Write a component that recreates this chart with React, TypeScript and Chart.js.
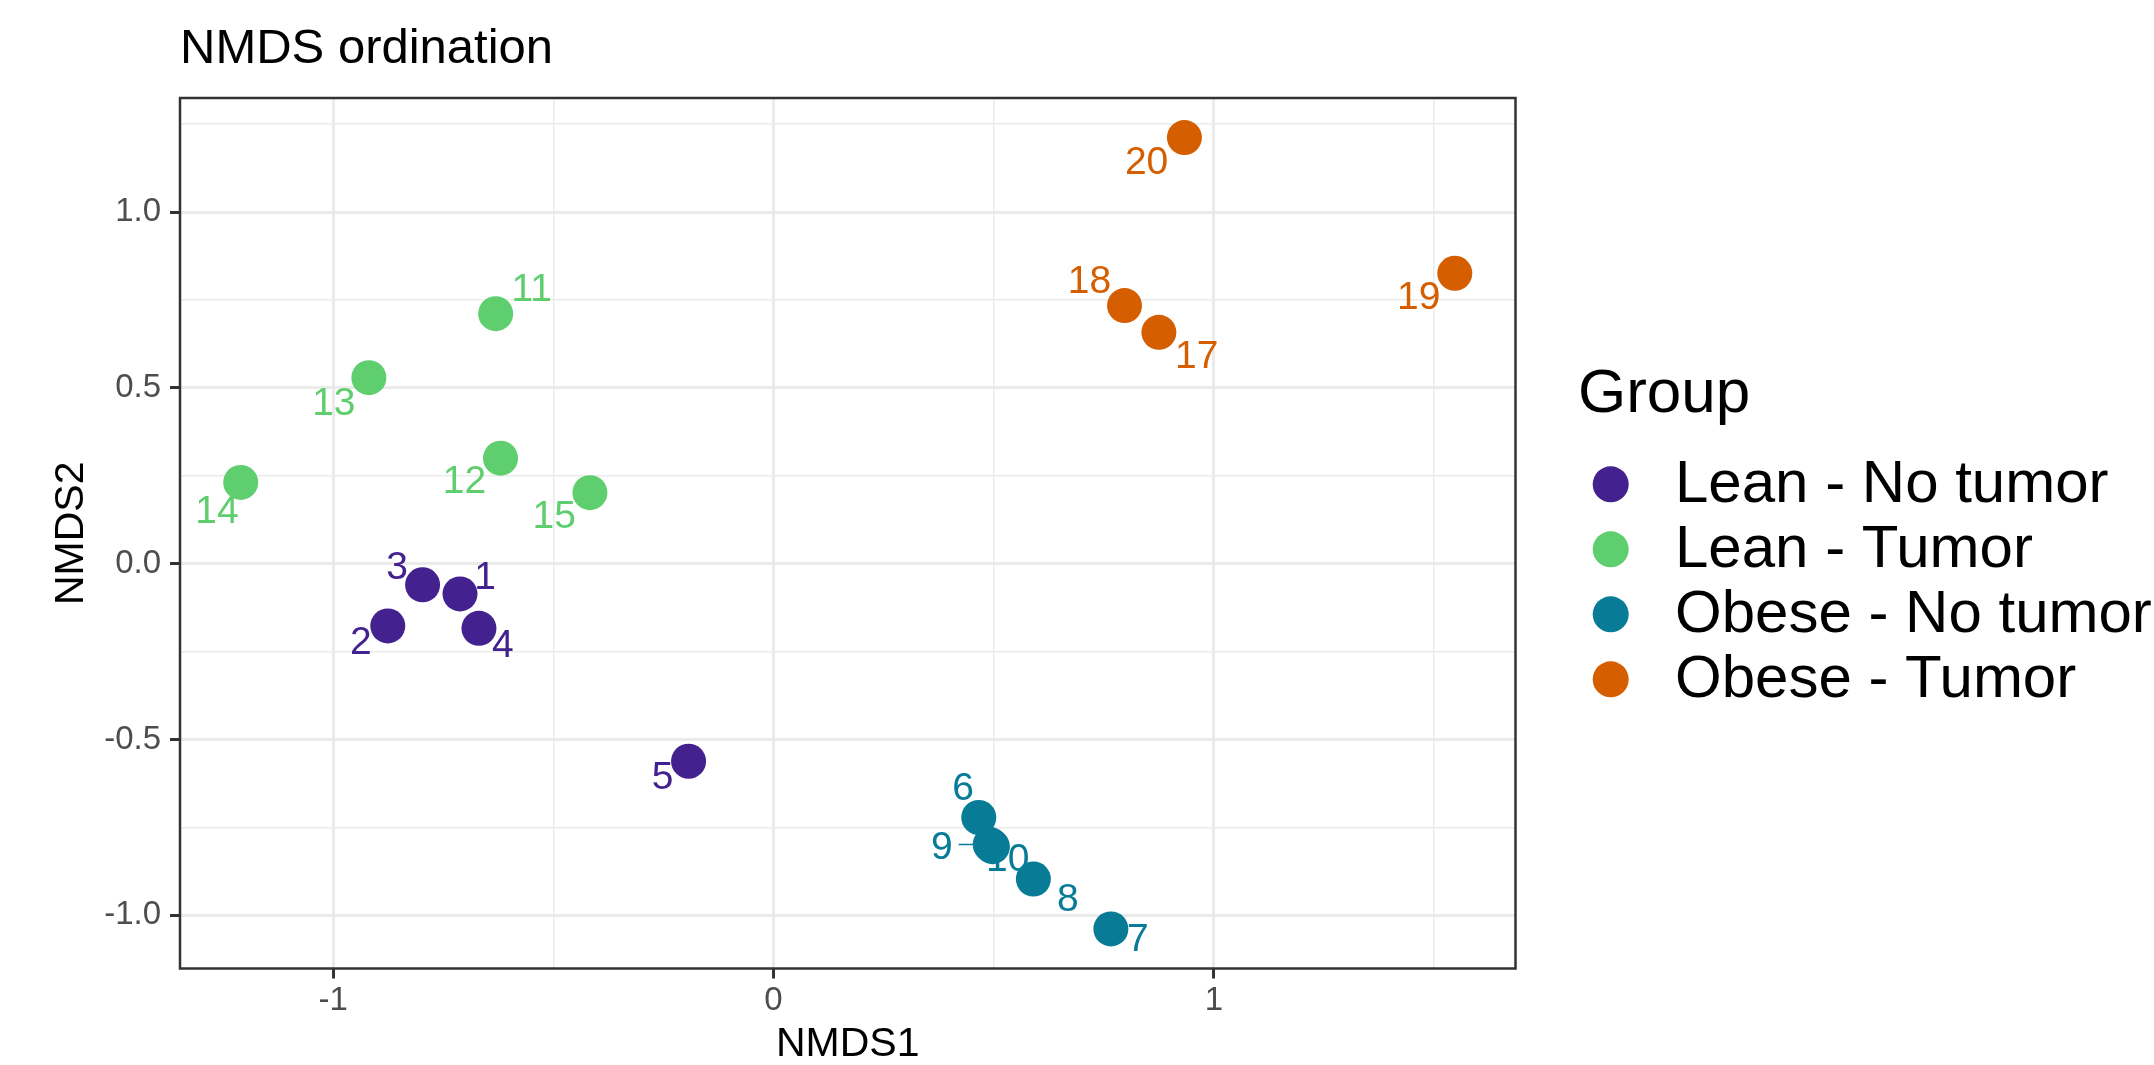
import React, { useEffect, useRef } from 'react';
import { Chart, registerables } from 'chart.js';

Chart.register(...registerables);

const FONT = '"Liberation Sans", Arial, Helvetica, sans-serif';

// ---- text ----
const chartTitle = 'NMDS ordination';
const xAxisTitle = 'NMDS1';
const yAxisTitle = 'NMDS2';
const legendTitle = 'Group';

// ---- groups ----
const groupNames = ['Lean - No tumor', 'Lean - Tumor', 'Obese - No tumor', 'Obese - Tumor'];
const groupColors = ['#43218F', '#5FCE6E', '#087B97', '#D55E00'];

// ---- samples ----
const sampleIds = ['1', '2', '3', '4', '5', '6', '7', '8', '9', '10', '11', '12', '13', '14', '15', '17', '18', '19', '20'];
const sampleGroup = [
  'Lean - No tumor', 'Lean - No tumor', 'Lean - No tumor', 'Lean - No tumor', 'Lean - No tumor',
  'Obese - No tumor', 'Obese - No tumor', 'Obese - No tumor', 'Obese - No tumor', 'Obese - No tumor',
  'Lean - Tumor', 'Lean - Tumor', 'Lean - Tumor', 'Lean - Tumor', 'Lean - Tumor',
  'Obese - Tumor', 'Obese - Tumor', 'Obese - Tumor', 'Obese - Tumor',
];
const nmds1 = [-0.712, -0.876, -0.797, -0.669, -0.193, 0.466, 0.766, 0.590, 0.492, 0.497, -0.631, -0.620, -0.919, -1.210, -0.417, 0.875, 0.797, 1.547, 0.933];
const nmds2 = [-0.086, -0.177, -0.060, -0.184, -0.562, -0.722, -1.039, -0.897, -0.799, -0.805, 0.711, 0.300, 0.529, 0.231, 0.202, 0.658, 0.734, 0.826, 1.212];

// ---- axis ticks ----
const xMajorTicks = [-1, 0, 1];
const xMinorTicks = [-0.5, 0.5, 1.5];
const yMajorTicks = [-1, -0.5, 0, 0.5, 1];
const yMinorTicks = [-0.75, -0.25, 0.25, 0.75, 1.25];

// ---- label placement (repelled text offsets in px, layout only) ----
const labelNudgeX = [25, -27, -25.5, 24, -26, -15.6, 27, 34.5, -48.4, 15.3, 36, -36, -35, -23.7, -35.7, 37.8, -35, -36, -37.8];
const labelNudgeY = [-16, 17, -16.7, 17.6, 17, -28.3, 11.3, 21.7, 3.5, 14, -23.6, 24, 27, 30, 25, 25, -23, 25, 25.8];
const labelSegment = [false, false, false, false, false, false, false, false, true, false, false, false, false, false, false, false, false, false, false];

const expandRange = (vals: number[]) => {
  const mn = Math.min(...vals);
  const mx = Math.max(...vals);
  const r = mx - mn;
  return [mn - 0.05 * r, mx + 0.05 * r];
};

const pointLabelsPlugin = {
  id: 'pointLabels',
  beforeDatasetsDraw(chart: any) {
    const ctx = chart.ctx;
    ctx.save();
    ctx.font = `39px ${FONT}`;
    ctx.textAlign = 'center';
    ctx.textBaseline = 'middle';
    chart.data.datasets.forEach((ds: any, di: number) => {
      const meta = chart.getDatasetMeta(di);
      meta.data.forEach((pt: any, j: number) => {
        const si = ds.sampleIdx[j];
        const lx = pt.x + labelNudgeX[si];
        const ly = pt.y + labelNudgeY[si];
        ctx.fillStyle = ds.backgroundColor;
        ctx.strokeStyle = ds.backgroundColor;
        if (labelSegment[si]) {
          const w = ctx.measureText(sampleIds[si]).width;
          ctx.lineWidth = 1.6;
          ctx.beginPath();
          ctx.moveTo(lx + w / 2 + 6, ly - 3.5);
          ctx.lineTo(pt.x, pt.y);
          ctx.stroke();
        }
        ctx.fillText(sampleIds[si], lx, ly);
      });
    });
    ctx.restore();
  },
};

const panelBorderPlugin = {
  id: 'panelBorder',
  afterDatasetsDraw(chart: any) {
    const { left, top, right, bottom } = chart.chartArea;
    const ctx = chart.ctx;
    ctx.save();
    ctx.strokeStyle = '#333333';
    ctx.lineWidth = 2.5;
    ctx.strokeRect(left, top, right - left, bottom - top);
    ctx.restore();
  },
};

const groupLegendPlugin = {
  id: 'groupLegend',
  afterDraw(chart: any) {
    const ctx = chart.ctx;
    const x0 = chart.chartArea.right + 62.5;
    ctx.save();
    ctx.fillStyle = '#000000';
    ctx.textAlign = 'left';
    ctx.textBaseline = 'alphabetic';
    ctx.font = `62px ${FONT}`;
    ctx.fillText(legendTitle, x0, 412);
    groupNames.forEach((name, i) => {
      const cy = 484.3 + i * 65;
      ctx.fillStyle = groupColors[i];
      ctx.beginPath();
      ctx.arc(x0 + 32.7, cy, 18, 0, Math.PI * 2);
      ctx.fill();
      ctx.fillStyle = '#000000';
      ctx.font = `60px ${FONT}`;
      ctx.textBaseline = 'middle';
      ctx.fillText(name, x0 + 97, cy + 1);
    });
    ctx.restore();
  },
};

export default function App() {
  const canvasRef = useRef<HTMLCanvasElement | null>(null);

  useEffect(() => {
    document.body.style.margin = '0';
    document.body.style.overflow = 'hidden';
    const canvas = canvasRef.current;
    if (!canvas) return;

    const datasets = groupNames.map((g, gi) => {
      const idx = sampleGroup.map((sg, i) => (sg === g ? i : -1)).filter((i) => i >= 0);
      return {
        label: g,
        data: idx.map((i) => ({ x: nmds1[i], y: nmds2[i] })),
        sampleIdx: idx,
        backgroundColor: groupColors[gi],
        borderColor: groupColors[gi],
        pointRadius: 17.5,
        pointHoverRadius: 17.5,
        pointBorderWidth: 0,
        pointStyle: 'circle',
      };
    });

    const xr = expandRange(nmds1);
    const yr = expandRange(nmds2);
    const xAll = [...xMajorTicks, ...xMinorTicks].sort((a, b) => a - b);
    const yAll = [...yMajorTicks, ...yMinorTicks].sort((a, b) => a - b);

    const chart = new Chart(canvas, {
      type: 'scatter',
      data: { datasets } as any,
      options: {
        animation: false,
        responsive: false,
        devicePixelRatio: 1,
        events: [],
        layout: { padding: { left: 0, top: 0, right: 638.5, bottom: 0 } },
        plugins: {
          legend: { display: false },
          tooltip: { enabled: false },
          title: {
            display: true,
            text: chartTitle,
            align: 'start',
            fullSize: false,
            color: '#000000',
            font: { family: FONT, size: 49, weight: 'normal', lineHeight: 1 },
            padding: { top: 25, bottom: 24 },
          },
        },
        scales: {
          x: {
            type: 'linear',
            position: 'bottom',
            min: xr[0],
            max: xr[1],
            afterBuildTicks: (s: any) => {
              s.ticks = xAll.map((v) => ({ value: v }));
            },
            afterFit: (s: any) => {
              s.height = 96.5;
            },
            ticks: {
              autoSkip: false,
              maxRotation: 0,
              minRotation: 0,
              padding: 3,
              color: '#4D4D4D',
              font: { family: FONT, size: 33 },
              callback: (v: any) => (xMajorTicks.includes(v) ? String(v) : ''),
            },
            grid: {
              color: '#EBEBEB',
              lineWidth: (c: any) => (xMajorTicks.includes(c.tick?.value) ? 3 : 1.5),
              drawTicks: true,
              tickLength: 10,
              tickWidth: 3,
              tickColor: (c: any) => (xMajorTicks.includes(c.tick?.value) ? '#333333' : 'rgba(0,0,0,0)'),
            },
            border: { display: false },
            title: {
              display: true,
              text: xAxisTitle,
              color: '#000000',
              font: { family: FONT, size: 41, lineHeight: 1 },
              padding: { top: 0, bottom: 0 },
            },
          },
          y: {
            type: 'linear',
            position: 'left',
            min: yr[0],
            max: yr[1],
            afterBuildTicks: (s: any) => {
              s.ticks = yAll.map((v) => ({ value: v }));
            },
            afterFit: (s: any) => {
              s.width = 180;
            },
            ticks: {
              autoSkip: false,
              padding: 9,
              color: '#4D4D4D',
              font: { family: FONT, size: 33 },
              callback: (v: any) => (yMajorTicks.includes(v) ? Number(v).toFixed(1) : ''),
            },
            grid: {
              color: '#EBEBEB',
              lineWidth: (c: any) => (yMajorTicks.includes(c.tick?.value) ? 3 : 1.5),
              drawTicks: true,
              tickLength: 10,
              tickWidth: 3,
              tickColor: (c: any) => (yMajorTicks.includes(c.tick?.value) ? '#333333' : 'rgba(0,0,0,0)'),
            },
            border: { display: false },
            title: {
              display: true,
              text: yAxisTitle,
              color: '#000000',
              font: { family: FONT, size: 41, lineHeight: 1 },
              padding: { top: 51, bottom: 0 },
            },
          },
        },
      } as any,
      plugins: [pointLabelsPlugin, panelBorderPlugin, groupLegendPlugin],
    });

    return () => {
      chart.destroy();
    };
  }, []);

  return (
    <div style={{ width: 2154, height: 1065, position: 'relative', background: '#ffffff' }}>
      <canvas ref={canvasRef} width={2154} height={1065} style={{ display: 'block', width: 2154, height: 1065 }} />
    </div>
  );
}
